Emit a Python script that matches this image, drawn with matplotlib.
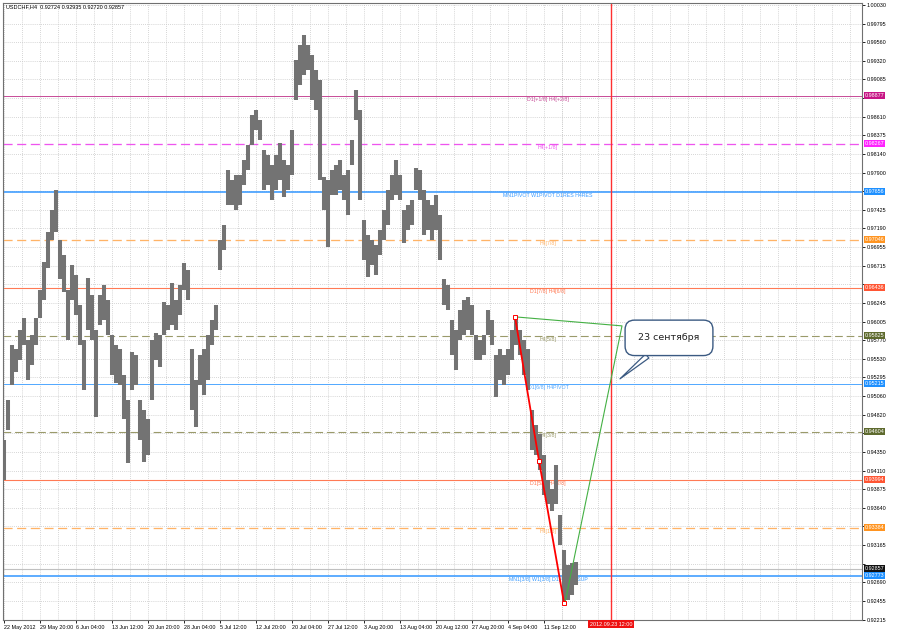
import matplotlib
matplotlib.use('Agg')
import matplotlib.pyplot as plt
from matplotlib.transforms import blended_transform_factory

# ---------------- data ----------------
highs = [0.9450, 0.9501, 0.9571, 0.9565, 0.9590, 0.9605, 0.9577, 0.9584, 0.9605, 0.9641,
         0.9676, 0.9715, 0.9742, 0.9768, 0.9704, 0.9685, 0.9641, 0.9673, 0.9660, 0.9622,
         0.9577, 0.9656, 0.9634, 0.9590, 0.9634, 0.9647, 0.9628, 0.9584, 0.9571, 0.9565,
         0.9533, 0.9501, 0.9562, 0.9558, 0.9501, 0.9488, 0.9476, 0.9577, 0.9586, 0.9584,
         0.9626, 0.9622, 0.9650, 0.9628, 0.9647, 0.9675, 0.9666, 0.9565, 0.9526, 0.9558,
         0.9565, 0.9584, 0.9603, 0.9622, 0.9704, 0.9723, 0.9793, 0.9781, 0.9787, 0.9787,
         0.9806, 0.9825, 0.9863, 0.9870, 0.9857, 0.9819, 0.9812, 0.9800, 0.9812, 0.9828,
         0.9806, 0.9800, 0.9844, 0.9933, 0.9952, 0.9965, 0.9952, 0.9940, 0.9920, 0.9908,
         0.9784, 0.9781, 0.9793, 0.9800, 0.9806, 0.9787, 0.9793, 0.9832, 0.9895, 0.9870,
         0.9730, 0.9711, 0.9704, 0.9698, 0.9717, 0.9742, 0.9768, 0.9787, 0.9806, 0.9787,
         0.9742, 0.9749, 0.9755, 0.9796, 0.9793, 0.9768, 0.9755, 0.9749, 0.9762, 0.9736,
         0.9654, 0.9647, 0.9603, 0.9590, 0.9615, 0.9628, 0.9632, 0.9622, 0.9584, 0.9577,
         0.9584, 0.9615, 0.9603, 0.9558, 0.9565, 0.9558, 0.9565, 0.9590, 0.9607, 0.9590,
         0.9577, 0.9565, 0.9488, 0.9469, 0.9457, 0.9431, 0.9399, 0.9387, 0.9418, 0.9355,
         0.9310, 0.9291, 0.9294, 0.9295]
lows = [0.9399, 0.9463, 0.9520, 0.9537, 0.9552, 0.9571, 0.9526, 0.9545, 0.9571, 0.9605,
        0.9628, 0.9669, 0.9704, 0.9715, 0.9654, 0.9638, 0.9577, 0.9628, 0.9609, 0.9571,
        0.9514, 0.9590, 0.9577, 0.9479, 0.9596, 0.9603, 0.9584, 0.9533, 0.9523, 0.9520,
        0.9476, 0.9421, 0.9514, 0.9520, 0.9450, 0.9422, 0.9431, 0.9501, 0.9552, 0.9543,
        0.9584, 0.9590, 0.9596, 0.9590, 0.9609, 0.9641, 0.9628, 0.9488, 0.9467, 0.9520,
        0.9507, 0.9526, 0.9571, 0.9590, 0.9666, 0.9692, 0.9749, 0.9749, 0.9742, 0.9749,
        0.9774, 0.9793, 0.9825, 0.9844, 0.9832, 0.9768, 0.9774, 0.9755, 0.9768, 0.9781,
        0.9759, 0.9768, 0.9787, 0.9882, 0.9901, 0.9914, 0.9920, 0.9882, 0.9870, 0.9781,
        0.9742, 0.9695, 0.9762, 0.9762, 0.9768, 0.9755, 0.9736, 0.9800, 0.9857, 0.9755,
        0.9679, 0.9657, 0.9673, 0.9660, 0.9685, 0.9704, 0.9723, 0.9755, 0.9762, 0.9755,
        0.9701, 0.9717, 0.9723, 0.9768, 0.9755, 0.9711, 0.9717, 0.9704, 0.9717, 0.9679,
        0.9622, 0.9615, 0.9558, 0.9539, 0.9577, 0.9584, 0.9590, 0.9584, 0.9552, 0.9552,
        0.9558, 0.9584, 0.9571, 0.9505, 0.9526, 0.9520, 0.9533, 0.9552, 0.9571, 0.9558,
        0.9533, 0.9514, 0.9437, 0.9431, 0.9412, 0.9380, 0.9368, 0.9359, 0.9368, 0.9317,
        0.9243, 0.9247, 0.9253, 0.9266]

date_ticks = [0, 9, 18, 27, 36, 45, 54, 63, 72, 81, 90, 99, 108, 117, 126, 135]
date_labels = ['22 May 2012', '29 May 20:00', '6 Jun 04:00', '13 Jun 12:00', '20 Jun 20:00',
               '28 Jun 04:00', '5 Jul 12:00', '12 Jul 20:00', '20 Jul 04:00', '27 Jul 12:00',
               '3 Aug 20:00', '13 Aug 04:00', '20 Aug 12:00', '27 Aug 20:00', '4 Sep 04:00',
               '11 Sep 12:00']

price_ticks = [1.00030, 0.99795, 0.99560, 0.99320, 0.99085, 0.98850, 0.98610, 0.98375,
               0.98140, 0.97900, 0.97665, 0.97425, 0.97190, 0.96955, 0.96715, 0.96480,
               0.96245, 0.96005, 0.95770, 0.95530, 0.95295, 0.95060, 0.94820, 0.94585,
               0.94350, 0.94110, 0.93875, 0.93640, 0.93405, 0.93165, 0.92925, 0.92690,
               0.92455, 0.92215]

level_prices = [0.98877, 0.98267, 0.97656, 0.97046, 0.96436, 0.95825, 0.95215,
                0.94604, 0.93994, 0.93384, 0.92773]
level_names = ['D1[+1/8] H4[+2/8]', 'H4[+1/8]', 'MN1PIVOT W1PIVOT D1RES H4RES', 'H4[7/8]',
               'D1[7/8] H4[6/8]', 'H4[5/8]', 'D1[6/8] H4PIVOT', 'H4[3/8]',
               'D1[5/8] H4[2/8]', 'H4[1/8]', 'MN1[3/8] W1[3/8] D1[4/8] H4SUP']
level_line_colors = ['#C8509A', '#EE55EE', '#3A9BFF', '#FFB366', '#FF7A55', '#9A9A6A',
                     '#55AAFF', '#9A9A6A', '#FF7A55', '#FFB366', '#3A9BFF']
level_box_colors = ['#C71585', '#FF22FF', '#1E90FF', '#FF9420', '#FF5533', '#5E6A2E',
                    '#1E90FF', '#5E6A2E', '#FF5533', '#FF9420', '#1E90FF']
level_styles = ['-', '--', '-', '--', '-', '--', '-', '--', '-', '--', '-']
level_widths = [1.0, 1.3, 1.6, 1.3, 1.1, 1.1, 1.0, 1.1, 1.1, 1.3, 1.6]

last_price = 0.92857
header = 'USDCHF,H4  0.92724 0.92935 0.92720 0.92857'

trend_x = [127.75, 133.75, 140.0]
trend_p = [0.96065, 0.94235, 0.92430]
tri_x = [127.75, 154.5, 140.25]
tri_p = [0.96065, 0.95950, 0.92430]
vline_x = 151.75
vline_label = '2012.09.23 12:00'
callout_text = '23 сентября'
callout_xy = (154.0, 0.95277)
callout_text_xy = (166.25, 0.95798)

# ---------------- figure ----------------
plt.rcParams['font.family'] = ['Liberation Sans', 'DejaVu Sans']
fig = plt.figure(figsize=(9, 6.32), dpi=100)
fig.patch.set_facecolor('white')
ax = fig.add_axes([3 / 900, 12 / 632, 859 / 900, 617 / 632])
ax.set_facecolor('white')

ax.set_xlim(-0.25, 214.5)
ax.set_ylim(0.92210, 1.00056)

# tick labels hidden under the coloured price boxes (as in the terminal)
shown = []
for v in price_ticks:
    near_level = min(abs(v - b) for b in level_prices)
    near_last = abs(v - last_price)
    hidden = near_level < 0.00045 or near_last < 0.0009
    shown.append('' if hidden else '%.5f' % v)

ax.set_xticks(date_ticks)
ax.set_xticklabels(date_labels)
ax.set_xticks([t + 4.5 for t in date_ticks] + [139.5 + 4.5 * k for k in range(17)], minor=True)
ax.set_yticks(price_ticks)
ax.set_yticklabels(shown)
ax.grid(which='both', color='#C8C8C8', linestyle=(0, (1, 1.5)), linewidth=0.6)
ax.set_axisbelow(True)

ax.yaxis.tick_right()
ax.tick_params(axis='y', labelsize=3.9, length=2, width=0.6, pad=1.5, colors='#000000')
ax.tick_params(axis='x', labelsize=3.9, length=2, width=0.6, pad=1.5, colors='#000000')
ax.tick_params(axis='x', which='minor', length=0)
for lab in ax.get_xticklabels():
    lab.set_horizontalalignment('left')
for s in ax.spines.values():
    s.set_color('#707070')
    s.set_linewidth(0.8)

trans_y = blended_transform_factory(ax.transAxes, ax.transData)
trans_x = blended_transform_factory(ax.transData, ax.transAxes)

# level lines
for p, name, lc, bc, ls, lw in zip(level_prices, level_names, level_line_colors,
                                   level_box_colors, level_styles, level_widths):
    line = ax.axhline(p, color=lc, lw=lw * 0.72, zorder=1.2)
    if ls == '--':
        line.set_dashes((7, 3.5))
    ax.text(136, p - 0.00012, name, color=lc, fontsize=3.8, ha='center', va='top', zorder=1.3)
    ax.text(1.003, p, '%.5f' % p, transform=trans_y, color='white', fontsize=3.9,
            ha='left', va='center', zorder=5, clip_on=False,
            bbox=dict(boxstyle='square,pad=0.15', fc=bc, ec='none'))

# current price line
ax.axhline(last_price, color='#C0C0C0', lw=0.8, zorder=1.1)
ax.text(1.003, last_price + 0.00008, '%.5f' % last_price, transform=trans_y, color='white',
        fontsize=3.9, ha='left', va='center', zorder=5.5, clip_on=False,
        bbox=dict(boxstyle='square,pad=0.1', fc='#111111', ec='none'))

# price bars
idx = list(range(len(highs)))
ax.vlines(idx, lows, highs, color='#737373', lw=2.9, zorder=2)

# vertical time line
ax.axvline(vline_x, color='#FF3030', lw=1.0, zorder=2.5)
ax.text(vline_x, -0.003, vline_label, transform=trans_x, color='white', fontsize=3.9,
        ha='center', va='top', clip_on=False, zorder=6,
        bbox=dict(boxstyle='square,pad=0.3', fc='#EE1111', ec='none'))

# drawing objects
ax.plot(tri_x, tri_p, color='#44B044', lw=0.8, zorder=3)
ax.plot(trend_x, trend_p, color='#FF0000', lw=1.3, zorder=3.2)
ax.plot(trend_x, trend_p, linestyle='none', marker='s', ms=2.6, mfc='white',
        mec='#FF0000', mew=0.7, zorder=3.3)

ax.annotate(callout_text, xy=callout_xy, xytext=callout_text_xy, fontsize=6.8,
            family=['DejaVu Sans'], color='#222222', ha='center', va='center', zorder=4,
            bbox=dict(boxstyle='round,pad=1.4,rounding_size=1.0', fc='white',
                      ec='#3B5A82', lw=1.0),
            arrowprops=dict(arrowstyle='wedge,tail_width=0.55,shrink_factor=0.5',
                            fc='white', ec='#3B5A82', lw=0.9, shrinkA=0, shrinkB=0))

fig.text(6 / 900, 1 - 7 / 632, header, fontsize=4, color='#000000', ha='left', va='center')

fig.savefig('out.png', dpi=100, facecolor='white')
